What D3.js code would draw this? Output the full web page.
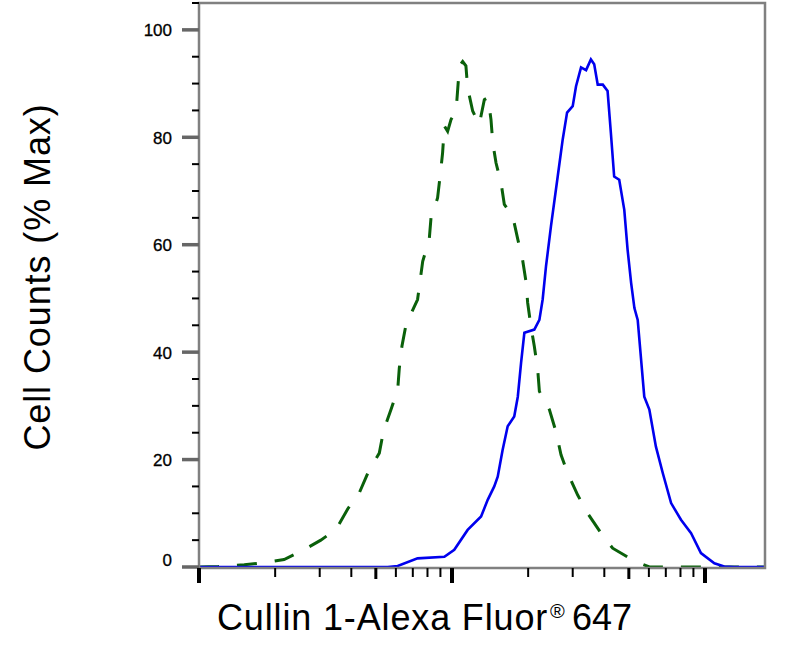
<!DOCTYPE html>
<html>
<head>
<meta charset="utf-8">
<script src="https://cdn.jsdelivr.net/npm/d3@7"></script>
<style>
  body { margin: 0; background: #fff; }
  text { font-family: "Liberation Sans", Arial, sans-serif; }
</style>
</head>
<body>
<div id="container"></div>
<script>
let width = 789;
let height = 650;

// fluorescence intensity (x) and % of max (y)
let stainedX = [100, 557, 610, 731, 933, 1021, 1153, 1303, 1384, 1469, 1516, 1585, 1660, 1762, 1820,
    1875, 1932, 2115, 2215, 2282, 2353, 2461, 2617, 2739, 2850, 3000, 3092, 3236, 3388, 3540,
    3648, 3767, 3945, 4121, 4246, 4375, 4581, 4797, 4943, 5105, 5260, 5420, 5754, 6026, 6397,
    6808, 7345, 8035, 8810, 9638, 10890, 11910, 13060, 17300];
let stainedY = [0, 0, 0.2, 1.6, 1.9, 3.2, 6.9, 9.4, 12.5, 15.0, 16.8, 21.8, 26.2, 28.0, 31.7,
    38.0, 43.6, 44.2, 46.0, 49.8, 56.0, 63.4, 72.7, 79.6, 84.6, 85.8, 89.5, 93.0, 92.5, 94.5,
    93.6, 89.8, 89.8, 88.6, 80.8, 72.7, 72.1, 66.5, 59.1, 52.9, 48.2, 46.0, 31.7, 29.3, 22.4,
    17.5, 11.9, 8.8, 6.3, 2.6, 0.7, 0.1, 0, 0];

let controlX = [100, 119, 151, 179, 217, 253, 303, 348, 387, 430, 471, 516, 537, 574, 610,
    619, 634, 658, 731, 766, 813, 826, 877, 899, 918, 933, 961, 991, 1038, 1070,
    1102, 1135, 1153, 1207, 1282, 1342, 1387, 1426, 1449, 1493, 1563, 1610, 1738, 1820, 1901,
    1960, 1991, 2051, 2115, 2182, 2215, 2426, 2576, 2697, 2865, 3139, 3438, 3882, 4315, 5176,
    6026, 9057, 17300];
let controlY = [0, 0.1, 0.4, 0.8, 1.4, 2.9, 5.0, 7.0, 10.8, 13.8, 18.1, 21.2, 25.5, 29.3, 33.0,
    37.0, 41.1, 45.1, 49.8, 56.9, 61.0, 65.0, 68.7, 73.1, 77.1, 82.1, 81.1, 83.3, 84.9, 93.3,
    94.1, 93.3, 89.2, 84.9, 82.4, 87.0, 87.4, 83.3, 79.0, 75.2, 71.5, 67.5, 65.3, 61.0, 57.2,
    53.2, 49.2, 44.8, 41.1, 36.7, 32.7, 29.3, 25.2, 20.9, 17.5, 13.4, 10.0, 6.3, 3.5, 1.3,
    0, 0, 0];

let yTicks = [0, 20, 40, 60, 80, 100];
let xTitle = "Cullin 1-Alexa Fluor";
let yTitle = "Cell Counts (% Max)";

let plotLeft = 199, plotRight = 765, plotTop = 3, plotBottom = 567;

let svg = d3.select("#container")
    .append("svg")
    .attr("width", width)
    .attr("height", height);

let x = d3.scaleLog()
    .domain([100, Math.pow(10, 2 + (plotRight - plotLeft) / 253)])
    .range([plotLeft, plotRight]);

let y = d3.scaleLinear()
    .domain([0, 105])
    .range([plotBottom, plotTop]);

svg.append("clipPath").attr("id", "plot")
    .append("rect")
    .attr("x", plotLeft).attr("y", plotTop)
    .attr("width", plotRight - plotLeft).attr("height", plotBottom - plotTop + 2);

let line = d3.line()
    .x(d => x(d[0]))
    .y(d => y(d[1]));

// control (dashed green)
svg.append("path")
    .datum(d3.zip(controlX, controlY))
    .attr("clip-path", "url(#plot)")
    .attr("d", line)
    .attr("fill", "none")
    .attr("stroke", "#0a600a")
    .attr("stroke-width", 3)
    .attr("stroke-dasharray", "20,18");

// stained (blue)
svg.append("path")
    .datum(d3.zip(stainedX, stainedY))
    .attr("clip-path", "url(#plot)")
    .attr("d", line)
    .attr("fill", "none")
    .attr("stroke", "#0000ee")
    .attr("stroke-width", 2.6);

// frame
svg.append("path")
    .attr("d", `M${plotLeft},${plotBottom + 1}V${plotTop}H${plotRight}V${plotBottom + 1}H${plotLeft}`)
    .attr("fill", "none")
    .attr("stroke", "#808080")
    .attr("stroke-width", 2.5);

// y ticks
let yMinor = d3.range(0, 106, 5).filter(v => v % 20 != 0);
svg.selectAll(".yminor")
    .data(yMinor)
    .enter()
    .append("line")
    .attr("x1", plotLeft - 7).attr("x2", plotLeft)
    .attr("y1", d => y(d)).attr("y2", d => y(d))
    .attr("stroke", "#000")
    .attr("stroke-width", 2);

svg.selectAll(".ymajor")
    .data(yTicks)
    .enter()
    .append("line")
    .attr("x1", plotLeft - 17).attr("x2", plotLeft)
    .attr("y1", d => y(d)).attr("y2", d => y(d))
    .attr("stroke", "#666")
    .attr("stroke-width", 3.5);

svg.selectAll(".ylabel")
    .data(yTicks)
    .enter()
    .append("text")
    .attr("x", 172)
    .attr("y", d => d == 0 ? y(d) - 1 : y(d) + 6.5)
    .attr("text-anchor", "end")
    .attr("font-size", 17)
    .attr("fill", "#000")
    .attr("stroke", "#000")
    .attr("stroke-width", 0.3)
    .text(d => d);

// x ticks (log)
function mantissa(d) {
    return d / Math.pow(10, Math.floor(Math.log10(d) + 1e-9));
}
let xAll = x.ticks();
svg.selectAll(".xtick")
    .data(xAll)
    .enter()
    .append("line")
    .attr("x1", d => x(d)).attr("x2", d => x(d))
    .attr("y1", plotBottom + 1)
    .attr("y2", d => {
        let m = mantissa(d);
        if (Math.abs(m - 1) < 1e-6) return plotBottom + 16;
        if (Math.abs(m - 5) < 1e-6) return plotBottom + 12;
        return plotBottom + 10;
    })
    .attr("stroke", "#000")
    .attr("stroke-width", d => {
        let m = mantissa(d);
        if (Math.abs(m - 1) < 1e-6) return 4;
        if (Math.abs(m - 5) < 1e-6) return 3;
        return 2;
    });

// titles
let xt = svg.append("text")
    .attr("x", 217)
    .attr("y", 630)
    .attr("font-size", 36)
    .attr("fill", "#000");
xt.append("tspan").attr("letter-spacing", 0.85).text(xTitle);
xt.append("tspan").attr("x", 550).attr("font-size", 20).attr("dy", -12).text("\u00AE");
xt.append("tspan").attr("x", 572).attr("dy", 12).text("647");

svg.append("text")
    .attr("transform", "translate(50,277) rotate(-90)")
    .attr("text-anchor", "middle")
    .attr("font-size", 36)
    .attr("letter-spacing", 0.9)
    .attr("fill", "#000")
    .text(yTitle);
</script>
</body>
</html>
